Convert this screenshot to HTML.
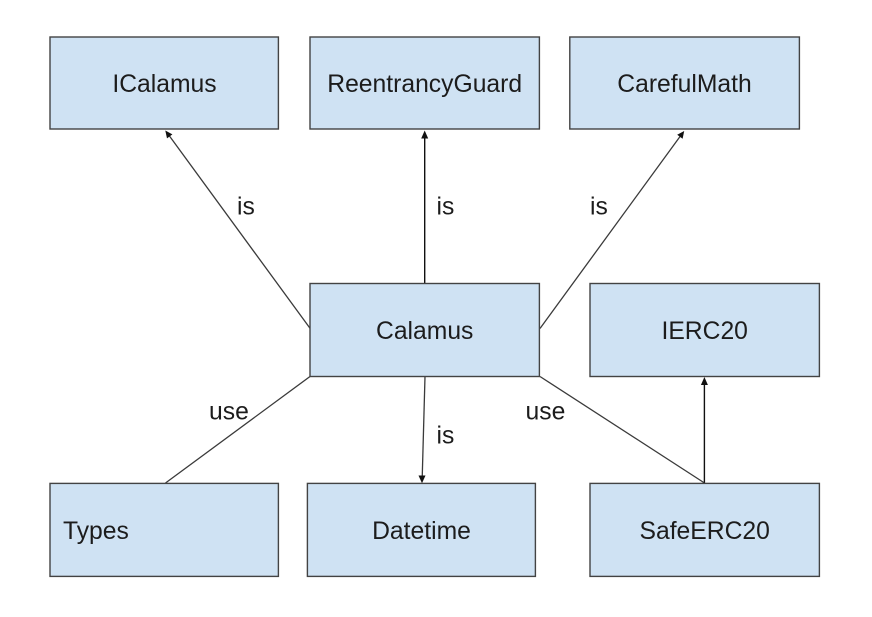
<!DOCTYPE html>
<html>
<head>
<meta charset="utf-8">
<style>
html,body{margin:0;padding:0;background:#fff;width:872px;height:617px;overflow:hidden}
svg{display:block;filter:blur(0.35px)}
text{font-family:"Liberation Sans",Arial,sans-serif;font-size:24.7px;fill:#1c1c1c}
.b{fill:#cfe2f3;stroke:#434343;stroke-width:1.4}
.l{stroke:#3a3a3a;stroke-width:1.3;fill:none}
.v{stroke:#111;stroke-width:1.4;fill:none}
.a{fill:#111;stroke:none}
</style>
</head>
<body>
<svg width="872" height="617" viewBox="0 0 872 617" xmlns="http://www.w3.org/2000/svg">
<rect width="872" height="617" fill="#fff"/>

<!-- connectors -->
<line class="l" x1="310" y1="328.3" x2="168" y2="134"/>
<polygon class="a" points="165.3,130.5 172.4,134.4 167,138.4"/>
<line class="v" x1="424.7" y1="283.5" x2="424.7" y2="136"/>
<polygon class="a" points="424.7,130.5 428.2,138.5 421.2,138.5"/>
<line class="l" x1="540" y1="328.5" x2="681.5" y2="134.5"/>
<polygon class="a" points="684.2,131 682.6,138.8 677.2,134.8"/>
<line class="l" x1="310" y1="376.5" x2="165.5" y2="483"/>
<line class="l" x1="425" y1="376.5" x2="422.2" y2="478"/>
<polygon class="a" points="422,483.2 418.5,475.5 425.5,475.5"/>
<line class="l" x1="540" y1="376.5" x2="704.5" y2="483"/>
<line class="v" x1="704.4" y1="483" x2="704.4" y2="382"/>
<polygon class="a" points="704.4,377 707.9,385 700.9,385"/>

<!-- boxes -->
<rect class="b" x="50" y="37" width="228.4" height="92"/>
<rect class="b" x="310" y="37" width="229.4" height="92"/>
<rect class="b" x="569.8" y="37" width="229.6" height="92"/>
<rect class="b" x="310" y="283.5" width="229.4" height="93"/>
<rect class="b" x="590" y="283.5" width="229.4" height="93"/>
<rect class="b" x="50" y="483.4" width="228.4" height="93"/>
<rect class="b" x="307.4" y="483.4" width="228" height="93"/>
<rect class="b" x="590" y="483.4" width="229.4" height="93"/>

<!-- box labels -->
<text x="164.5" y="92" text-anchor="middle">ICalamus</text>
<text x="424.7" y="92" text-anchor="middle">ReentrancyGuard</text>
<text x="684.5" y="92" text-anchor="middle">CarefulMath</text>
<text x="424.7" y="339" text-anchor="middle">Calamus</text>
<text x="704.7" y="339" text-anchor="middle">IERC20</text>
<text x="63" y="539">Types</text>
<text x="421.5" y="539" text-anchor="middle">Datetime</text>
<text x="704.7" y="539" text-anchor="middle">SafeERC20</text>

<!-- connector labels -->
<text x="237" y="214.5">is</text>
<text x="436.5" y="214.5">is</text>
<text x="590" y="214.5">is</text>
<text x="436.5" y="443.5">is</text>
<text x="209" y="419.5">use</text>
<text x="525.5" y="419.5">use</text>
</svg>
</body>
</html>
